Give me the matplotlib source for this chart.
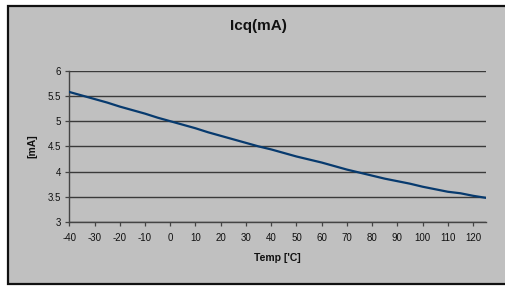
import matplotlib
matplotlib.use("Agg")
import matplotlib.pyplot as plt
from matplotlib.patches import Rectangle

temps = [-40, -35, -30, -25, -20, -15, -10, -5, 0, 5, 10, 15, 20, 25, 30, 35, 40,
         45, 50, 55, 60, 65, 70, 75, 80, 85, 90, 95, 100, 105, 110, 115, 120, 125]
icq = [5.58, 5.51, 5.44, 5.37, 5.29, 5.22, 5.15, 5.07, 5.00, 4.93, 4.86, 4.78,
       4.71, 4.64, 4.57, 4.50, 4.44, 4.37, 4.30, 4.24, 4.18, 4.11, 4.04, 3.98,
       3.92, 3.86, 3.81, 3.76, 3.70, 3.65, 3.60, 3.57, 3.52, 3.48]
xticks = list(range(-40, 121, 10))
yticks = [3, 3.5, 4, 4.5, 5, 5.5, 6]
ytick_labels = ["3", "3.5", "4", "4.5", "5", "5.5", "6"]

plt.rcParams['font.family'] = ['Liberation Sans', 'DejaVu Sans']
plt.rcParams['axes.unicode_minus'] = False

W, H = 506, 286
fig = plt.figure(figsize=(W / 100, H / 100), dpi=100)
fig.patch.set_facecolor('white')

bg = Rectangle((8 / W, 2 / H), 1.0, (284 - 6) / H, transform=fig.transFigure,
               facecolor='#C0C0C0', edgecolor='#111111', linewidth=1.6, zorder=-10)
fig.patches.append(bg)

ax = fig.add_axes([69.3 / W, (H - 222) / H, (485.7 - 69.3) / W, (222 - 70.8) / H])
ax.set_zorder(1)
ax.set_facecolor('#C0C0C0')
ax.plot(temps, icq, color='#073A6E', linewidth=1.6, zorder=3)

ax.set_xlim(-40, 125)
ax.set_ylim(3, 6)
ax.set_xticks(xticks)
ax.set_yticks(yticks)
ax.set_yticklabels(ytick_labels)
ax.yaxis.grid(True, color='#3a3a3a', linewidth=1.0)
ax.set_axisbelow(True)
for s in ['top', 'right']:
    ax.spines[s].set_visible(False)
for s in ['left', 'bottom']:
    ax.spines[s].set_color('#444444')
    ax.spines[s].set_linewidth(1.0)
ax.tick_params(axis='both', direction='out', length=3, width=0.9, color='#444444',
               labelsize=7, labelcolor='#111111', pad=3)
ax.tick_params(axis='x', pad=5)

fig.text(258 / W, 1 - 26 / H, 'Icq(mA)', ha='center', va='center',
         fontsize=11, fontweight='bold', color='#111111')
fig.text(277 / W, 1 - 258 / H, "Temp ['C]", ha='center', va='center',
         fontsize=7.5, fontweight='bold', color='#111111')
fig.text(32 / W, 1 - 146.5 / H, '[mA]', ha='center', va='center', rotation=90,
         fontsize=7.5, fontweight='bold', color='#111111')

fig.savefig('out.png', dpi=100, facecolor=fig.get_facecolor())
